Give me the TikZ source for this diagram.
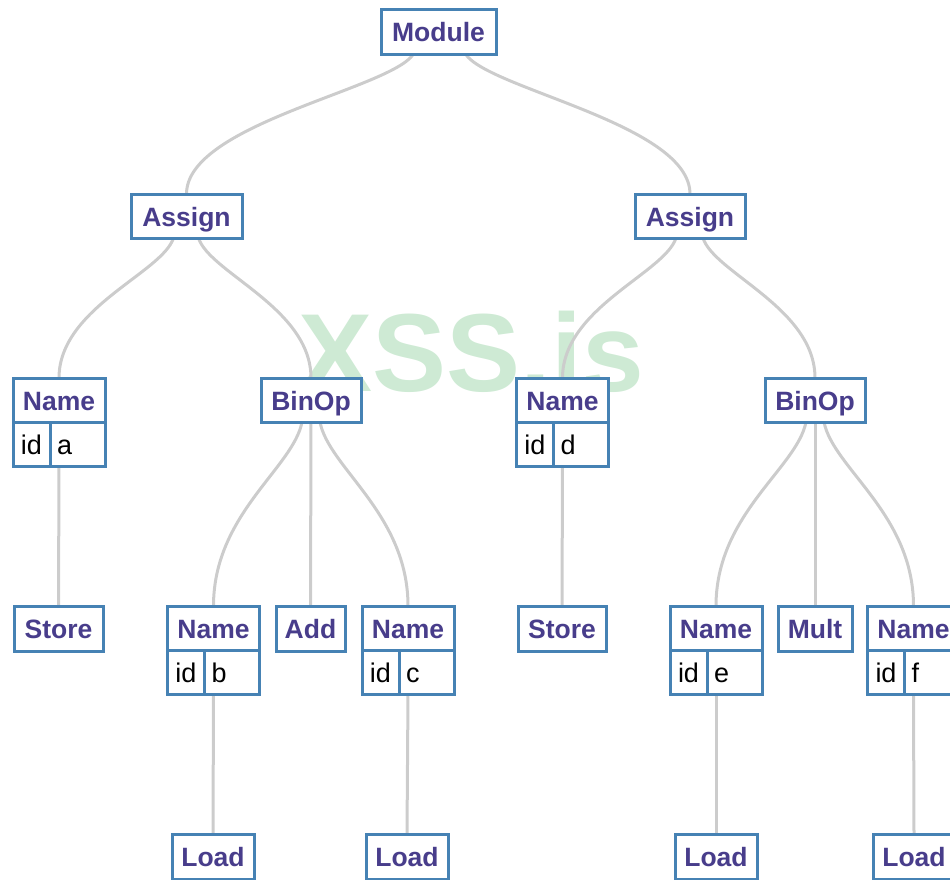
\documentclass[tikz,border=0pt]{standalone}
\usepackage{fontspec}
\setmainfont{Liberation Sans}
\usetikzlibrary{calc}
\definecolor{boxc}{RGB}{70,130,180}
\definecolor{txtc}{RGB}{72,61,139}
\definecolor{edgec}{RGB}{204,204,204}
\definecolor{wmc}{RGB}{206,234,212}
\pgfdeclarelayer{wm}
\pgfdeclarelayer{bg}
\pgfsetlayers{wm,bg,main}
\tikzset{
  box/.style={draw=boxc, line width=3pt, fill=white, outer sep=0pt, inner sep=0pt,
    minimum height=44pt, text height=22pt, text depth=2pt,
    font=\bfseries\fontsize{26.5}{30}\selectfont, text=txtc},
  idcell/.style={draw=boxc, line width=3pt, fill=white, outer sep=0pt, inner sep=0pt,
    minimum height=44pt, minimum width=37pt, text height=23pt, text depth=3pt,
    font=\fontsize{27}{30}\selectfont, text=black, anchor=north west},
  valcell/.style={draw=boxc, line width=3pt, fill=white, outer sep=0pt, inner xsep=7pt, inner ysep=0pt,
    minimum height=44pt, text height=23pt, text depth=3pt,
    font=\fontsize{27}{30}\selectfont, text=black, anchor=north west},
  edgeline/.style={draw=edgec, line width=3pt},
}
\newcommand\tedge[2]{\draw[edgeline] let \p1=(#1), \p2=(#2) in (\p1) .. controls ({0.9*\x1+0.1*\x2},{0.75*\y1+0.25*\y2}) and (\x2,{0.5*\y1+0.5*\y2}) .. (\p2);}
\newcommand\namebox[3]{%
  \node[box, minimum width=92pt] (#1) at (#2) {Name};
  \node[idcell] (#1-id) at (#1.south west) {id};
  \node[valcell] (#1-v) at (#1-id.north east) {\makebox[41pt][l]{#3}};
}
\begin{document}
\begin{tikzpicture}[x=1pt,y=1pt]
\useasboundingbox (0,0) rectangle (950,-879);
% nodes
\node[box, minimum width=115pt, minimum height=45pt] (mod) at (438.5,-31.5) {Module};
\node[box, minimum width=111pt] (asl) at (186.5,-216) {Assign};
\node[box, minimum width=110pt] (asr) at (690,-216) {Assign};
\namebox{na}{59,-400}{a}
\node[box, minimum width=100pt] (bol) at (311,-400) {BinOp};
\namebox{nd}{562.5,-400}{d}
\node[box, minimum width=100pt] (bor) at (815,-400) {BinOp};
\node[box, minimum width=89pt, minimum height=45pt] (sta) at (58.5,-628.5) {Store};
\namebox{nb}{213.5,-628}{b}
\node[box, minimum width=69pt, minimum height=45pt] (add) at (310.5,-628.5) {Add};
\namebox{nc}{408,-628}{c}
\node[box, minimum width=88pt, minimum height=45pt] (str) at (562,-628.5) {Store};
\namebox{ne}{716,-628}{e}
\node[box, minimum width=74pt, minimum height=45pt] (mul) at (815,-628.5) {Mult};
\namebox{nf}{913.5,-628}{f}
\node[box, minimum width=82pt, minimum height=45pt] (lb) at (213,-856.5) {Load};
\node[box, minimum width=82pt, minimum height=45pt] (lc) at (407,-856.5) {Load};
\node[box, minimum width=82pt, minimum height=45pt] (le) at (716,-856.5) {Load};
\node[box, minimum width=82pt, minimum height=45pt] (lf) at (914,-856.5) {Load};
% watermark
\begin{pgfonlayer}{wm}
\node[text=wmc, font=\bfseries\fontsize{111}{120}\selectfont, inner sep=0pt] (wmark) at (471,-352) {XSS.is};
\end{pgfonlayer}
% edges
\begin{pgfonlayer}{bg}
\tedge{$(mod.south)+(-25,0)$}{asl.north}
\tedge{$(mod.south)+(27,0)$}{asr.north}
\tedge{$(asl.south)+(-13,0)$}{na.north}
\tedge{$(asl.south)+(12,0)$}{bol.north}
\tedge{$(asr.south)+(-14,0)$}{nd.north}
\tedge{$(asr.south)+(13,0)$}{bor.north}
\tedge{$(bol.south)+(-9,0)$}{nb.north}
\draw[edgeline] (bol.south) -- (add.north);
\tedge{$(bol.south)+(9,0)$}{nc.north}
\tedge{$(bor.south)+(-9,0)$}{ne.north}
\draw[edgeline] (bor.south) -- (mul.north);
\tedge{$(bor.south)+(9,0)$}{nf.north}
\draw[edgeline] (na |- na-v.south) -- (sta.north);
\draw[edgeline] (nd |- nd-v.south) -- (str.north);
\draw[edgeline] (nb |- nb-v.south) -- (lb.north);
\draw[edgeline] (nc |- nc-v.south) -- (lc.north);
\draw[edgeline] (ne |- ne-v.south) -- (le.north);
\draw[edgeline] (nf |- nf-v.south) -- (lf.north);
\end{pgfonlayer}
\end{tikzpicture}
\end{document}
